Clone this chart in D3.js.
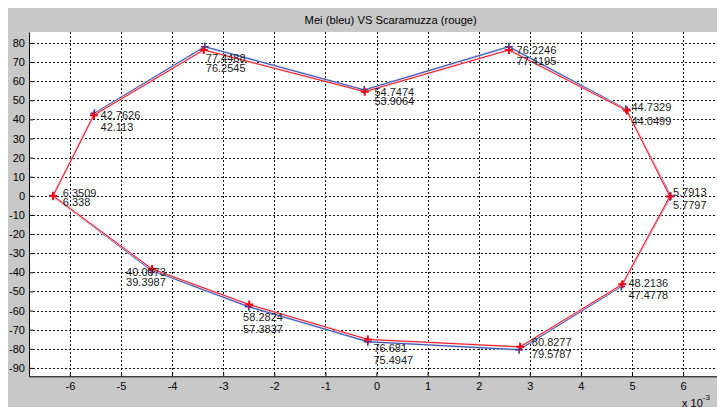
<!DOCTYPE html>
<html>
<head>
<meta charset="utf-8">
<script src="https://cdn.jsdelivr.net/npm/d3@7"></script>
<style>
  html, body { margin: 0; padding: 0; background: #fff; }
  svg { display: block; font-family: "Liberation Sans", Arial, sans-serif; }
</style>
</head>
<body>
<svg id="chart"></svg>
<script>
// x values are in units of 1e-3 (the axis shows "x 10^-3")
const blueX = [-6.33, -5.52, -3.36, -0.24, 2.59, 4.88, 5.76, 4.79, 2.79, -0.17, -2.50, -4.40];
const blueY = [-0.2, 43.2, 78.0, 55.4, 78.0, 45.3, -0.2, -47.4, -80.5, -76.3, -58.0, -39.0];
const redX = [-6.33, -5.53, -3.38, -0.23, 2.59, 4.90, 5.74, 4.81, 2.81, -0.17, -2.49, -4.39];
const redY = [0.0, 42.2, 76.3, 54.5, 76.3, 44.6, -0.3, -46.3, -79.0, -75.1, -56.9, -38.3];

// text annotations (data coordinates of each text, like MATLAB text())
const labelTop = ["6.3509", "42.7626", "77.4488", "54.7474", "76.2246", "44.7329",
  "5.7913", "48.2136", "80.8277", "76.681", "58.2824", "40.0073"];
const labelBottom = ["6.338", "42.113", "76.2545", "53.9064", "77.4195", "44.0499",
  "5.7797", "47.4778", "79.5787", "75.4947", "57.3837", "39.3987"];
const labelX = [-6.14, -5.40, -3.34, -0.04, 2.74, 4.99, 5.80, 4.93, 3.04, -0.06, -2.61, -4.90];
const labelY1 = [1.7, 42.3, 71.9, 54.5, 76.3, 46.3, 1.9, -45.6, -76.6, -79.6, -63.6, -39.6];
const labelY2 = [-3.0, 36.2, 66.7, 49.6, 70.5, 39.3, -4.7, -52.1, -82.7, -85.7, -69.6, -45.3];

const xTicks = [-6, -5, -4, -3, -2, -1, 0, 1, 2, 3, 4, 5, 6];
const yTicks = [-90, -80, -70, -60, -50, -40, -30, -20, -10, 0, 10, 20, 30, 40, 50, 60, 70, 80];
const titleText = "Mei (bleu) VS Scaramuzza (rouge)";

(() => {
  const width = 717, height = 407;
  const plot = { left: 29, right: 724, top: 32, bottom: 376.3 };

  const svg = d3.select("#chart")
    .attr("width", width)
    .attr("height", height)
    .attr("viewBox", [0, 0, width, height]);

  // figure background (grey MATLAB window)
  svg.append("rect").attr("width", width).attr("height", height).attr("fill", "#fff");
  svg.append("rect")
    .attr("x", 8).attr("y", 8)
    .attr("width", width - 8).attr("height", height - 8)
    .attr("fill", "#c8c8c8");

  svg.append("rect")
    .attr("x", plot.left).attr("y", plot.top)
    .attr("width", plot.right - plot.left).attr("height", plot.bottom - plot.top)
    .attr("fill", "#fff");

  const x = d3.scaleLinear().domain([-6.8, 6.8]).range([plot.left, plot.right]);
  const y = d3.scaleLinear().domain([-94.4, 85.7]).range([plot.bottom, plot.top]);

  svg.append("defs").append("clipPath").attr("id", "clip")
    .append("rect")
    .attr("x", plot.left).attr("y", plot.top)
    .attr("width", plot.right - plot.left).attr("height", plot.bottom - plot.top);

  // dotted grid
  const grid = svg.append("g")
    .attr("stroke", "#111")
    .attr("stroke-width", 1)
    .attr("stroke-dasharray", "2,2")
    .attr("shape-rendering", "crispEdges");
  grid.selectAll("line.gx")
    .data(xTicks)
    .join("line")
    .attr("class", "gx")
    .attr("x1", d => Math.round(x(d)) + 0.5).attr("x2", d => Math.round(x(d)) + 0.5)
    .attr("y1", plot.top).attr("y2", plot.bottom);
  grid.selectAll("line.gy")
    .data(yTicks)
    .join("line")
    .attr("class", "gy")
    .attr("x1", plot.left + 4).attr("x2", plot.right)
    .attr("y1", d => Math.round(y(d)) + 0.5).attr("y2", d => Math.round(y(d)) + 0.5);

  // axes (ticks point inward, plain hyphen minus like MATLAB)
  const yAxis = d3.axisLeft(y)
    .tickValues(yTicks)
    .tickFormat(d => String(d))
    .tickSizeInner(-4)
    .tickSizeOuter(0)
    .tickPadding(4);
  const xAxis = d3.axisBottom(x)
    .tickValues(xTicks)
    .tickFormat(d => String(d))
    .tickSizeInner(-4)
    .tickSizeOuter(0)
    .tickPadding(6);

  svg.append("g")
    .attr("transform", `translate(${plot.left},0)`)
    .call(yAxis)
    .call(g => g.select(".domain").attr("stroke", "#000"))
    .call(g => g.selectAll("text")
      .attr("fill", "#000")
      .style("font", "11px 'Liberation Sans', Arial, sans-serif"));

  svg.append("g")
    .attr("transform", `translate(0,${plot.bottom})`)
    .call(xAxis)
    .call(g => g.select(".domain").attr("stroke", "#000"))
    .call(g => g.selectAll("text")
      .attr("fill", "#000")
      .style("font", "11px 'Liberation Sans', Arial, sans-serif"));

  // series
  const blue = blueX.map((v, i) => ({ x: v, y: blueY[i] }));
  const red = redX.map((v, i) => ({ x: v, y: redY[i] }));

  const line = d3.line().x(d => x(d.x)).y(d => y(d.y)).curve(d3.curveLinearClosed);
  const plotG = svg.append("g").attr("clip-path", "url(#clip)");

  function drawSeries(data, core, halo, plusWidth) {
    plotG.append("path")
      .attr("d", line(data))
      .attr("fill", "none")
      .attr("stroke", halo)
      .attr("stroke-width", 2)
      .attr("stroke-linejoin", "round");
    plotG.append("path")
      .attr("d", line(data))
      .attr("fill", "none")
      .attr("stroke", core)
      .attr("stroke-width", 0.9)
      .attr("stroke-linejoin", "round");
    plotG.selectAll(null)
      .data(data)
      .join("path")
      .attr("transform", d => `translate(${x(d.x)},${y(d.y)})`)
      .attr("d", "M-4,0H4M0,-4V4")
      .attr("stroke", core)
      .attr("stroke-width", plusWidth)
      .attr("fill", "none");
  }

  drawSeries(blue, "#2a45a8", "#b7c3ea", 1.6);
  drawSeries(red, "#f00010", "#ffc4ca", 2);

  // value labels
  const labelFont = "11px 'Liberation Sans', Arial, sans-serif";
  const labels = svg.append("g").attr("fill", "#1c1c1c").style("font", labelFont);
  labels.selectAll("text.top")
    .data(labelTop)
    .join("text")
    .attr("class", "top")
    .attr("x", (d, i) => x(labelX[i]))
    .attr("y", (d, i) => y(labelY1[i]))
    .attr("dominant-baseline", "central")
    .text(d => d);
  labels.selectAll("text.bottom")
    .data(labelBottom)
    .join("text")
    .attr("class", "bottom")
    .attr("x", (d, i) => x(labelX[i]))
    .attr("y", (d, i) => y(labelY2[i]))
    .attr("dominant-baseline", "central")
    .text(d => d);

  // title
  svg.append("text")
    .attr("x", 390.7)
    .attr("y", 20)
    .attr("text-anchor", "middle")
    .attr("dominant-baseline", "central")
    .attr("fill", "#000")
    .style("font", "11.2px 'Liberation Sans', Arial, sans-serif")
    .text(titleText);

  // exponent label
  const expo = svg.append("text")
    .attr("x", 682)
    .attr("y", 406.5)
    .attr("fill", "#000")
    .style("font", "11px 'Liberation Sans', Arial, sans-serif");
  expo.append("tspan").text("x 10");
  expo.append("tspan").attr("dy", -7).style("font-size", "8px").text("-3");
})();
</script>
</body>
</html>
